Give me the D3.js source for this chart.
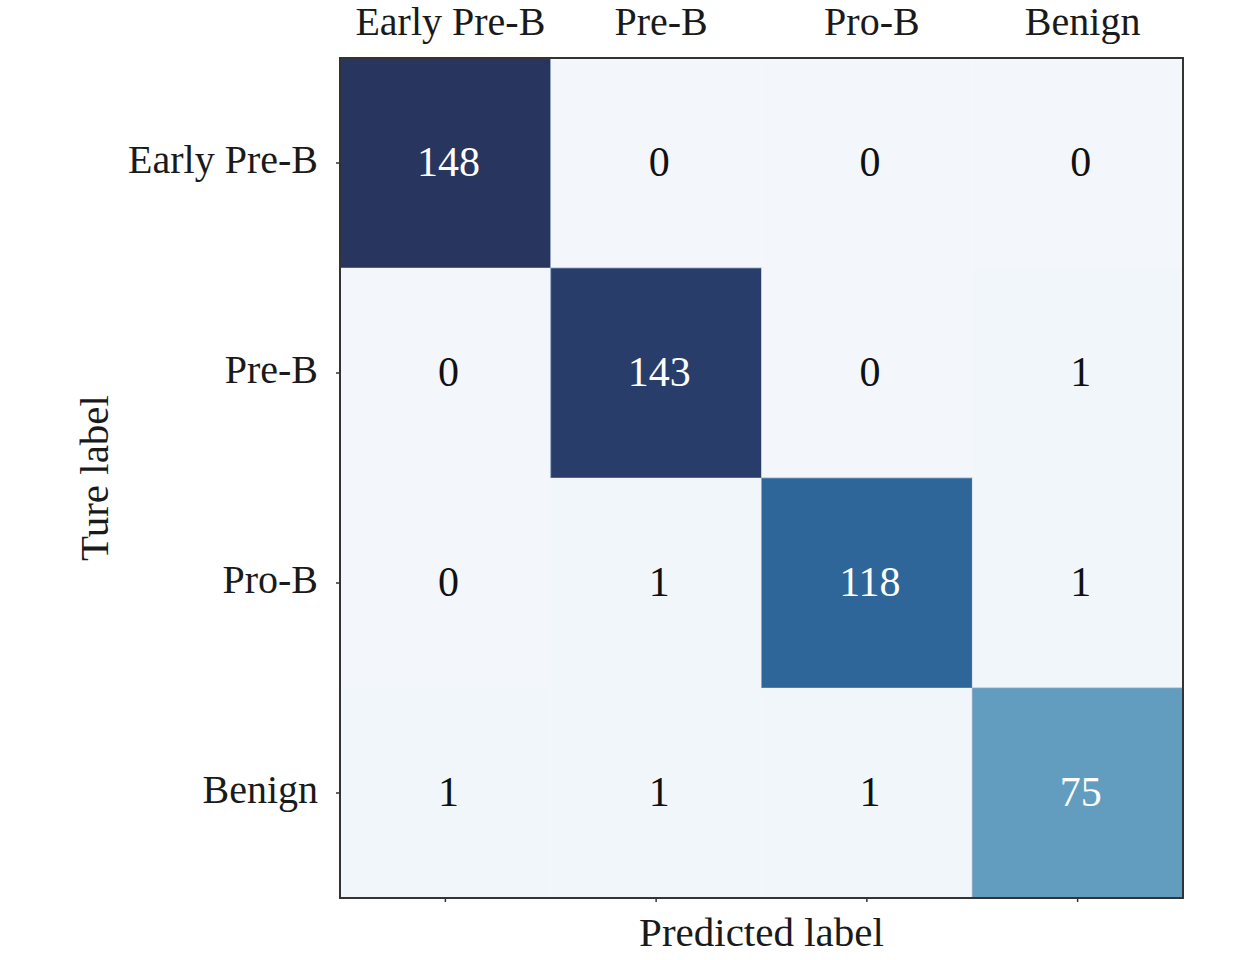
<!DOCTYPE html>
<html>
<head>
<meta charset="utf-8">
<script src="https://cdn.jsdelivr.net/npm/d3@7"></script>
<style>
  html, body { margin: 0; padding: 0; background: #fff; }
  svg text { font-family: "Liberation Serif", "Times New Roman", serif; }
</style>
</head>
<body>
<svg id="chart" width="1259" height="960"></svg>
<script>
const predictedLabels = ["Early Pre-B", "Pre-B", "Pro-B", "Benign"];
const trueLabels = ["Early Pre-B", "Pre-B", "Pro-B", "Benign"];
const matrix = [
  [148, 0, 0, 0],
  [0, 143, 0, 1],
  [0, 1, 118, 1],
  [1, 1, 1, 75]
];
const colorStops = [0, 75, 118, 148];
const colorRange = ["#f3f7fb", "#629dbf", "#2f6699", "#27355f"];

const svg = d3.select("#chart");
const mLeft = 340, mTop = 58, mRight = 1183, mBottom = 898;

const x = d3.scaleBand().domain(predictedLabels).range([mLeft, mRight]);
const y = d3.scaleBand().domain(trueLabels).range([mTop, mBottom]);
const color = d3.scaleLinear().domain(colorStops).range(colorRange);

const cells = [];
trueLabels.forEach((t, i) => predictedLabels.forEach((p, j) => cells.push({t, p, v: matrix[i][j]})));

svg.append("g").selectAll("rect").data(cells).join("rect")
  .attr("x", d => x(d.p)).attr("y", d => y(d.t))
  .attr("width", x.bandwidth()).attr("height", y.bandwidth())
  .attr("fill", d => color(d.v))
  .attr("stroke", d => d.v > 50 ? "#8aa4c4" : "none")
  .attr("stroke-width", 0.8);

svg.append("g").selectAll("text").data(cells).join("text")
  .attr("x", d => x(d.p) + x.bandwidth() / 2 + 3)
  .attr("y", d => y(d.t) + y.bandwidth() / 2)
  .attr("dy", "0.3em")
  .attr("text-anchor", "middle")
  .attr("font-size", 42)
  .attr("fill", d => d.v > 50 ? "#ffffff" : "#111111")
  .text(d => d.v);

// frame
svg.append("rect")
  .attr("x", mLeft).attr("y", mTop)
  .attr("width", mRight - mLeft).attr("height", mBottom - mTop)
  .attr("fill", "none").attr("stroke", "#333").attr("stroke-width", 2);

// top axis labels (no ticks)
const topAxis = d3.axisTop(x).tickSize(0).tickPadding(0);
const gTop = svg.append("g").attr("transform", `translate(5,${35})`).call(topAxis);
gTop.select(".domain").remove();
gTop.selectAll("text").attr("font-size", 40).attr("fill", "#1a1a1a")
  .attr("dy", 0).attr("font-family", "Liberation Serif, serif");

// bottom ticks
const bottomAxis = d3.axisBottom(x).tickSize(4).tickFormat("");
const gBot = svg.append("g").attr("transform", `translate(0,${mBottom})`).call(bottomAxis);
gBot.select(".domain").remove();
gBot.selectAll("line").attr("stroke", "#333").attr("stroke-width", 1.5);

// left axis
const leftAxis = d3.axisLeft(y).tickSize(4).tickPadding(18);
const gLeft = svg.append("g").attr("transform", `translate(${mLeft},0)`).call(leftAxis);
gLeft.select(".domain").remove();
gLeft.selectAll("line").attr("stroke", "#333").attr("stroke-width", 1.5);
gLeft.selectAll("text").attr("font-size", 40).attr("fill", "#1a1a1a")
  .attr("font-family", "Liberation Serif, serif").attr("dy", "0.25em");

// axis titles
svg.append("text")
  .attr("x", (mLeft + mRight) / 2).attr("y", 946)
  .attr("text-anchor", "middle").attr("font-size", 41).attr("fill", "#1a1a1a")
  .text("Predicted label");

svg.append("text")
  .attr("transform", `translate(108,${(mTop + mBottom) / 2}) rotate(-90)`)
  .attr("text-anchor", "middle").attr("font-size", 41).attr("fill", "#1a1a1a")
  .text("Ture label");
</script>
</body>
</html>
